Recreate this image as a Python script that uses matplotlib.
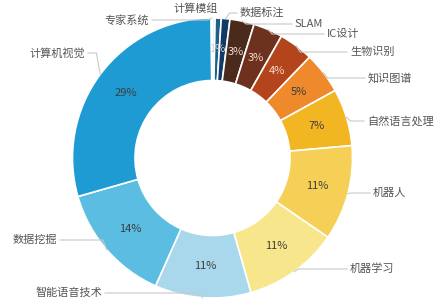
import matplotlib
matplotlib.use('Agg')
import matplotlib.pyplot as plt
import numpy as np

plt.rcParams['font.family'] = ['Noto Sans CJK SC', 'DejaVu Sans']

# slices, clockwise from 12 o'clock
names = ['计算模组', '', '数据标注', 'SLAM', 'IC设计', '生物识别', '知识图谱', '自然语言处理',
         '机器人', '机器学习', '智能语音技术', '数据挖掘', '计算机视觉', '专家系统']
values = [0.3, 0.7, 1.0, 2.8, 3.4, 4.0, 4.8, 6.6, 11.0, 11.0, 11.1, 13.9, 29.3, 0.15]
colors = ['#cfe8f3', '#1b6189', '#0f3b66', '#4b2a1e', '#6e311d', '#b4441b', '#ee8a2b',
          '#f3b623', '#f6d056', '#f7e68b', '#a9d7eb', '#5cbde2', '#1f9bd3', '#7fc3e6']
dark = ['SLAM', 'IC设计', '生物识别']

W, H = 439, 307
CX, CY, R, R_IN = 212.5, H - 158, 140, 77.5

# label anchors in image pixels: (x, y, align)
label_pos = {
    '专家系统': (149, 20, 'right'),
    '计算模组': (196, 9, 'center'),
    '数据标注': (240, 13, 'left'),
    'SLAM': (295, 24, 'left'),
    'IC设计': (327, 34, 'left'),
    '生物识别': (350, 52, 'left'),
    '知识图谱': (368, 78, 'left'),
    '自然语言处理': (367, 121, 'left'),
    '机器人': (373, 193, 'left'),
    '机器学习': (350, 269, 'left'),
    '智能语音技术': (102, 293, 'right'),
    '数据挖掘': (57, 240, 'right'),
    '计算机视觉': (85, 53, 'right'),
}

fig = plt.figure(figsize=(W / 100, H / 100), dpi=100)
ax = fig.add_axes([0, 0, 1, 1])

def pct(p):
    return '%.0f%%' % p if p >= 0.5 else ''

wedges, _, autotexts = ax.pie(values, colors=colors, startangle=90, counterclock=False,
                              center=(CX, CY), radius=R, autopct=pct,
                              pctdistance=(R + R_IN) / 2 / R,
                              wedgeprops=dict(width=R - R_IN, edgecolor='white', linewidth=1.2),
                              textprops=dict(fontsize=8, color='#3c3c3c'))

# the navy slice's label sits under the teal one
autotexts[2].set_text('')
autotexts[1].set_color('#cfcfcf')
for i, t in enumerate(autotexts):
    if names[i] in dark:
        t.set_color('#f2dcd2')

for i, w in enumerate(wedges):
    name = names[i]
    if name not in label_pos:
        continue
    lx, ly, ha = label_pos[name]
    ly = H - ly
    mid = np.deg2rad((w.theta1 + w.theta2) / 2)
    x0, y0 = CX + R * np.cos(mid), CY + R * np.sin(mid)
    if ha == 'left':
        xe = lx - 3
    elif ha == 'right':
        xe = lx + 3
    else:
        xe = None
    if xe is not None:
        xm = x0 + (4 if ha == 'left' else -4)
        if abs(xe - x0) < 8:
            xm = (x0 + xe) / 2
        ax.plot([x0, xm, xe], [y0, ly, ly], color='#c9c9c9', lw=0.8)
    ax.text(lx, ly, name, ha=ha, va='center', fontsize=8, color='#555555')

ax.set_xlim(0, W)
ax.set_ylim(0, H)
ax.set_aspect('equal')
ax.axis('off')

fig.savefig('out.png', dpi=100, facecolor='white')
